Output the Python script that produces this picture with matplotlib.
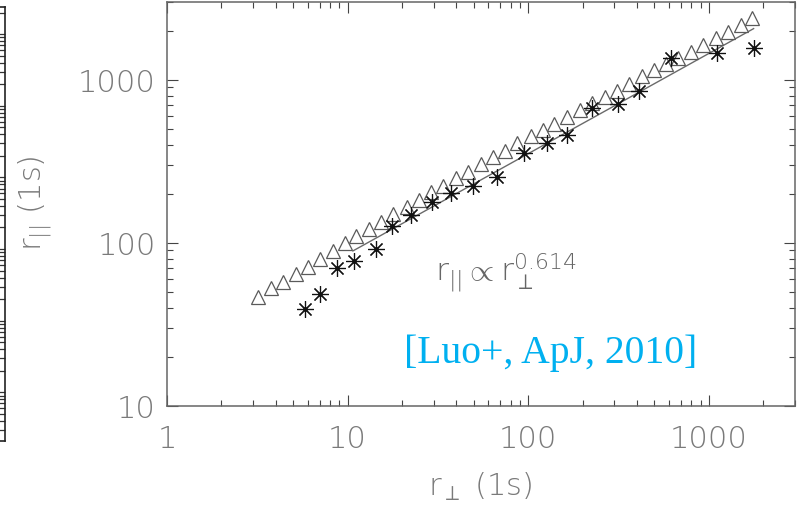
import matplotlib
matplotlib.use('Agg')
import matplotlib.pyplot as plt
from matplotlib.ticker import FixedLocator, FixedFormatter, LogLocator, NullFormatter

# triangles (r_perp, r_par)
tri_x = [3.18, 3.75, 4.37, 5.16, 6.01, 7.00, 8.26, 9.62, 11.2, 13.2, 15.4, 17.9, 21.2, 24.7,
         29.1, 33.9, 40.0, 46.6, 55.0, 64.1, 74.6, 87.0, 103, 120, 139, 164, 194, 226, 266,
         310, 361, 427, 497, 579, 674, 795, 927, 1090, 1270, 1500, 1730]
tri_y = [46.6, 52.9, 57.6, 64.5, 71.2, 79.8, 89.3, 100, 110, 122, 135, 151, 166, 184,
         206, 224, 251, 273, 306, 337, 367, 411, 453, 494, 537, 593, 655, 723, 787,
         857, 945, 1060, 1150, 1250, 1370, 1490, 1640, 1810, 1970, 2170, 2400]

# asterisks
star_x = [5.79, 7.00, 8.70, 10.8, 14.3, 17.7, 22.3, 29.5, 37.5, 49.7, 67.4, 95.0, 127,
          164, 226, 314, 411, 617, 1110, 1770]
star_y = [39.4, 48.6, 70.3, 77.6, 91.9, 127, 148, 179, 203, 224, 254, 357, 411,
          460, 674, 712, 857, 1370, 1450, 1570]

# power-law fit, end points
fit_x = [10.7, 1770]
fit_y = [89.3, 2060]

ticks = [1, 10, 100, 1000]
tick_labels = ['1', '10', '100', '1000']

plt.rcParams['font.family'] = ['DejaVu Sans']
plt.rcParams['font.weight'] = 'light'
plt.rcParams['mathtext.fontset'] = 'custom'
plt.rcParams['mathtext.rm'] = 'DejaVu Sans:light'
plt.rcParams['mathtext.it'] = 'DejaVu Sans:light'
plt.rcParams['mathtext.sf'] = 'DejaVu Sans:light'

grey = '#7a7a7a'
frame = '#666666'

fig = plt.figure(figsize=(7.98, 5.06), dpi=100)

# edge of the neighbouring panel on the far left
ax0 = fig.add_axes([-0.2, 0.1265, 0.2063, 0.8577])
ax0.set_yscale('log')
ax0.set_ylim(10 ** -0.68, 10 ** 5.38)
ax0.set_xticks([])
ax0.yaxis.tick_right()
ax0.tick_params(axis='y', which='major', direction='in', length=5, width=0.9, color='#333333', labelright=False)
ax0.tick_params(axis='y', which='minor', direction='in', length=4, width=0.9, color='#333333', labelright=False)
ax0.yaxis.set_minor_locator(LogLocator(base=10, subs=range(2, 10)))
ax0.yaxis.set_minor_formatter(NullFormatter())
for s in ax0.spines.values():
    s.set_color('#222222')
    s.set_linewidth(1.2)

ax = fig.add_axes([167 / 798, 99 / 506, 628 / 798, 404 / 506])
ax.set_xscale('log')
ax.set_yscale('log')
ax.set_xlim(1, 3000)
ax.set_ylim(10, 3000)

ax.plot(fit_x, fit_y, color='#6a6a6a', lw=1.0)
ax.plot(tri_x, tri_y, ls='none', marker='^', ms=9.5, mfc='white', mec='#5a5a5a', mew=0.9)
ax.plot(star_x, star_y, ls='none', marker=(8, 2, 0), ms=12, mec='#111111', mew=0.85)
ax.plot(star_x, star_y, ls='none', marker='o', ms=2, mfc='#111111', mec='#111111')

for axis in (ax.xaxis, ax.yaxis):
    axis.set_major_locator(FixedLocator(ticks))
    axis.set_major_formatter(FixedFormatter(tick_labels))
    axis.set_minor_locator(LogLocator(base=10, subs=range(2, 10)))
    axis.set_minor_formatter(NullFormatter())

ax.tick_params(which='both', direction='in', top=True, right=True, color='#444444', width=0.8,
               labelcolor=grey, labelsize=22)
ax.tick_params(which='major', length=8)
ax.tick_params(which='minor', length=4.3)
ax.tick_params(axis='x', pad=13)
ax.tick_params(axis='y', pad=8)
for s in ax.spines.values():
    s.set_color(frame)
    s.set_linewidth(1.1)

fig.text(480 / 798, (506 - 487) / 506, r'r$_{\perp}$ (1s)', color=grey, fontsize=22,
         ha='center', va='center')
fig.text(35 / 798, (506 - 203) / 506, r'r$_{||}$ (1s)', color=grey, fontsize=22,
         ha='center', va='center', rotation=90)

fig.text(435 / 798, (506 - 281) / 506, r'r$_{||}$$\propto$r$_{\perp}^{0.614}$', color='#666666',
         fontsize=22.5, ha='left', va='baseline')

fig.text(404 / 798, (506 - 363) / 506, '[Luo+, ApJ, 2010]', color='#00B0F0', fontsize=28.5,
         family='Liberation Serif', weight='normal', ha='left', va='baseline')

fig.savefig('out.png', dpi=100)
